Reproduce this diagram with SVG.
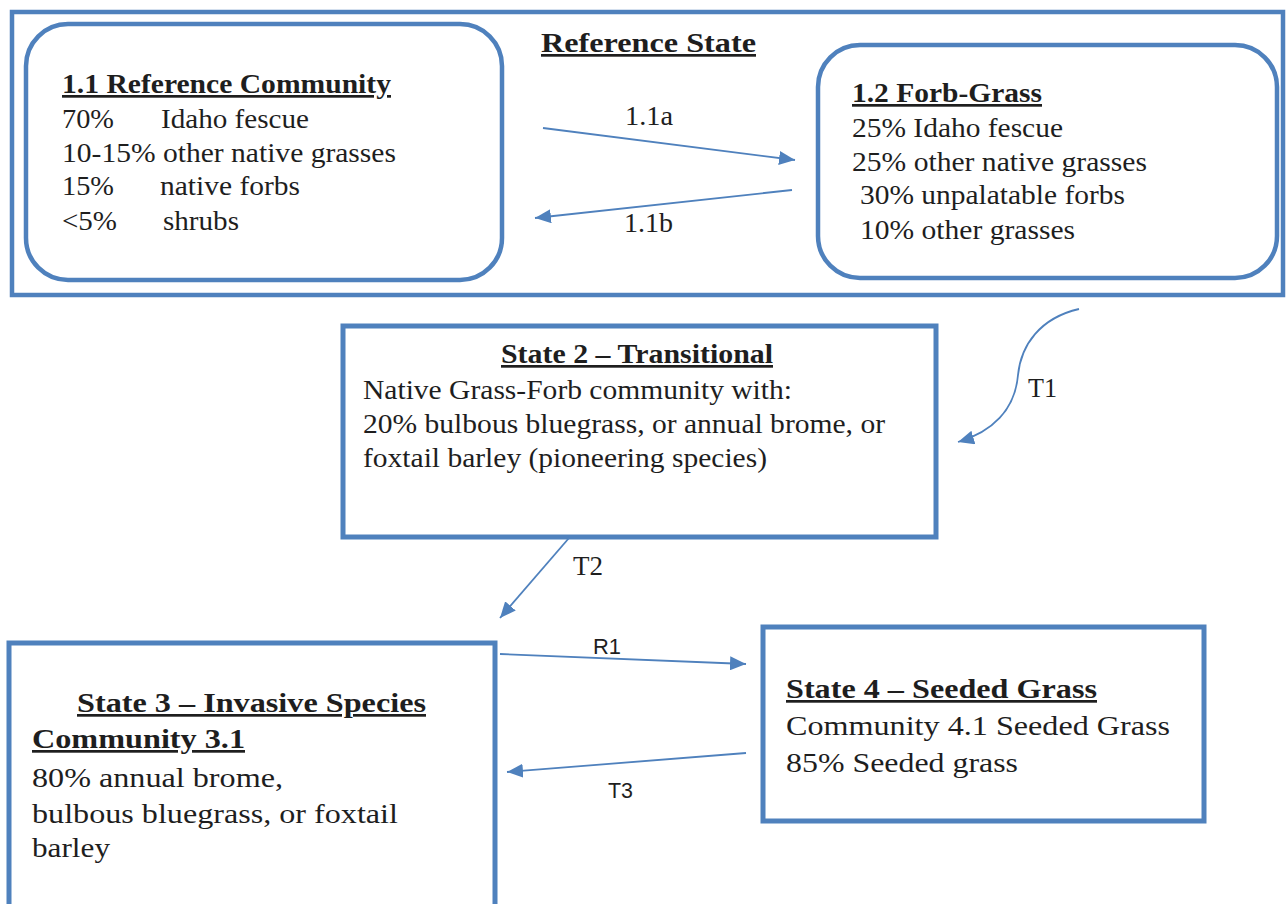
<svg xmlns="http://www.w3.org/2000/svg" width="1286" height="904" viewBox="0 0 1286 904">
<style>
.box{fill:#fff;stroke:#4f81bd;stroke-width:4.5}
.t{font-family:"Liberation Serif","Times New Roman",serif;font-size:27px;fill:#1e1e1e}
.b{font-weight:bold;text-decoration:underline}
.s{font-family:"Liberation Sans",Arial,sans-serif;font-size:22px;fill:#1e1e1e}
.c{fill:none;stroke:#4f81bd;stroke-width:1.8}
</style>
<defs>
<marker id="ah" markerUnits="userSpaceOnUse" markerWidth="16" markerHeight="14" refX="16" refY="7" orient="auto">
<path d="M0,0 L16,7 L0,14 Z" fill="#4f81bd"/>
</marker>
</defs>
<rect width="1286" height="904" fill="#fff"/>

<g id="reference-state">
<rect class="box" x="12" y="12" width="1271" height="283"/>
<text class="t b" x="541" y="52" textLength="215" lengthAdjust="spacingAndGlyphs">Reference State</text>
</g>

<g id="community-1-1">
<rect class="box" x="26" y="24" width="476" height="256" rx="42" ry="42"/>
<text class="t b" x="62" y="93" textLength="329" lengthAdjust="spacingAndGlyphs">1.1 Reference Community</text>
<text class="t" x="62" y="128" textLength="52" lengthAdjust="spacingAndGlyphs">70%</text>
<text class="t" x="161" y="128" textLength="148" lengthAdjust="spacingAndGlyphs">Idaho fescue</text>
<text class="t" x="62" y="162" textLength="334" lengthAdjust="spacingAndGlyphs">10-15% other native grasses</text>
<text class="t" x="62" y="195" textLength="52" lengthAdjust="spacingAndGlyphs">15%</text>
<text class="t" x="160" y="195" textLength="140" lengthAdjust="spacingAndGlyphs">native forbs</text>
<text class="t" x="62" y="230" textLength="55" lengthAdjust="spacingAndGlyphs">&lt;5%</text>
<text class="t" x="163" y="230" textLength="76" lengthAdjust="spacingAndGlyphs">shrubs</text>
</g>

<g id="community-1-2">
<rect class="box" x="818" y="45" width="459" height="233" rx="42" ry="42"/>
<text class="t b" x="852" y="102" textLength="190" lengthAdjust="spacingAndGlyphs">1.2 Forb-Grass</text>
<text class="t" x="852" y="137" textLength="211" lengthAdjust="spacingAndGlyphs">25% Idaho fescue</text>
<text class="t" x="852" y="171" textLength="295" lengthAdjust="spacingAndGlyphs">25% other native grasses</text>
<text class="t" x="860" y="204" textLength="265" lengthAdjust="spacingAndGlyphs">30% unpalatable forbs</text>
<text class="t" x="860" y="239" textLength="215" lengthAdjust="spacingAndGlyphs">10% other grasses</text>
</g>

<g id="state-2">
<rect class="box" x="343" y="326" width="593" height="211" style="stroke-width:5"/>
<text class="t b" x="501" y="363" textLength="272" lengthAdjust="spacingAndGlyphs">State 2 – Transitional</text>
<text class="t" x="363" y="399" textLength="429" lengthAdjust="spacingAndGlyphs">Native Grass-Forb community with:</text>
<text class="t" x="363" y="433" textLength="522" lengthAdjust="spacingAndGlyphs">20% bulbous bluegrass, or annual brome, or</text>
<text class="t" x="363" y="467" textLength="404" lengthAdjust="spacingAndGlyphs">foxtail barley (pioneering species)</text>
</g>

<g id="state-3">
<rect class="box" x="9" y="643" width="486" height="300" style="stroke-width:5"/>
<text class="t b" x="77" y="712" textLength="349" lengthAdjust="spacingAndGlyphs">State 3 – Invasive Species</text>
<text class="t b" x="32" y="748" textLength="213" lengthAdjust="spacingAndGlyphs">Community 3.1</text>
<text class="t" x="32" y="787" textLength="251" lengthAdjust="spacingAndGlyphs">80% annual brome,</text>
<text class="t" x="32" y="823" textLength="366" lengthAdjust="spacingAndGlyphs">bulbous bluegrass, or foxtail</text>
<text class="t" x="32" y="857" textLength="78" lengthAdjust="spacingAndGlyphs">barley</text>
</g>

<g id="state-4">
<rect class="box" x="763" y="627" width="441" height="194" style="stroke-width:5"/>
<text class="t b" x="786" y="698" textLength="311" lengthAdjust="spacingAndGlyphs">State 4 – Seeded Grass</text>
<text class="t" x="786" y="735" textLength="384" lengthAdjust="spacingAndGlyphs">Community 4.1 Seeded Grass</text>
<text class="t" x="786" y="772" textLength="232" lengthAdjust="spacingAndGlyphs">85% Seeded grass</text>
</g>

<g id="connectors">
<line class="c" x1="543" y1="128" x2="795" y2="160" marker-end="url(#ah)"/>
<text class="t" x="625" y="125" textLength="48" lengthAdjust="spacingAndGlyphs">1.1a</text>
<line class="c" x1="792" y1="190" x2="535" y2="218" marker-end="url(#ah)"/>
<text class="t" x="624" y="232" textLength="49" lengthAdjust="spacingAndGlyphs">1.1b</text>
<path class="c" d="M1079,309 C1040,318 1021,345 1018,375 C1015,410 992,432 958,442" marker-end="url(#ah)"/>
<text class="t" x="1028" y="397" textLength="29" lengthAdjust="spacingAndGlyphs">T1</text>
<line class="c" x1="569" y1="538" x2="500" y2="618" marker-end="url(#ah)"/>
<text class="t" x="573" y="575" textLength="30" lengthAdjust="spacingAndGlyphs">T2</text>
<line class="c" x1="500" y1="654" x2="746" y2="664" marker-end="url(#ah)"/>
<text class="s" x="593" y="654" textLength="28" lengthAdjust="spacingAndGlyphs">R1</text>
<line class="c" x1="746" y1="753" x2="507" y2="772" marker-end="url(#ah)"/>
<text class="s" x="608" y="798" textLength="25" lengthAdjust="spacingAndGlyphs">T3</text>
</g>
</svg>
